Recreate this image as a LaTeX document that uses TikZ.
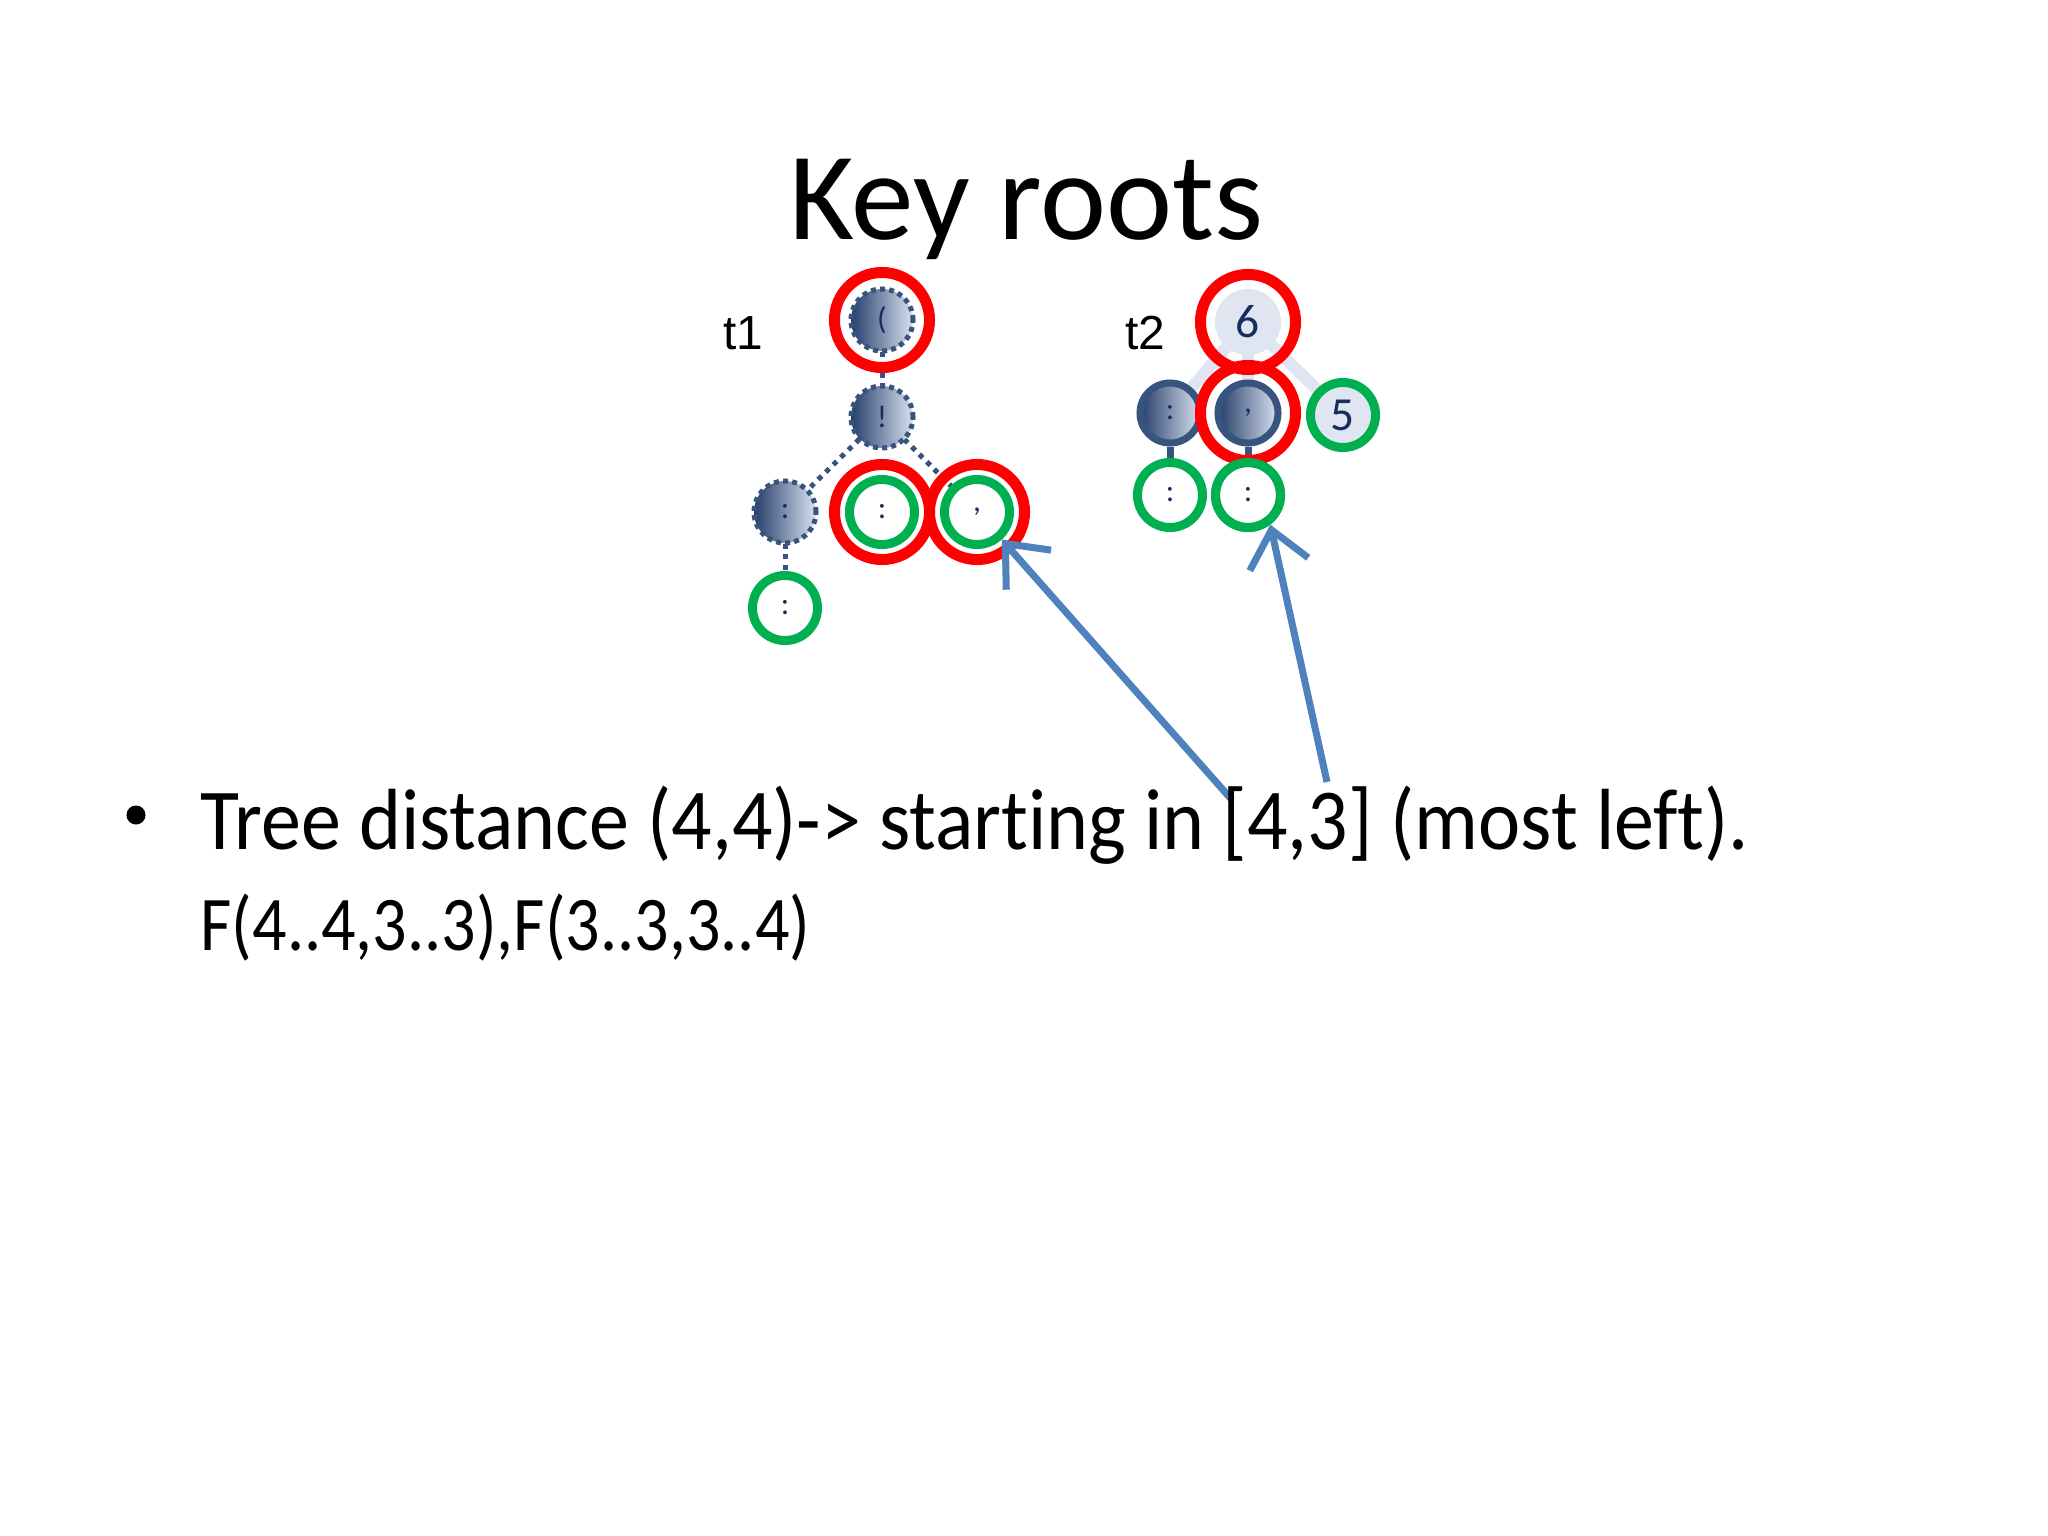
\documentclass[tikz,border=0pt]{standalone}
\usepackage{fontspec}
\setmainfont{Carlito}[Ligatures=NoCommon]
\newfontfamily\labelfont{Liberation Sans}
\newfontfamily\bodyfont{Carlito}[Ligatures=NoCommon, FakeStretch=0.92]
\newfontfamily\formfont{Carlito}[Ligatures=NoCommon, FakeStretch=0.88]
\usetikzlibrary{arrows.meta}
\definecolor{KRRed}{RGB}{255,0,0}
\definecolor{KRGreen}{RGB}{0,176,80}
\definecolor{KRNavy}{RGB}{23,45,95}
\definecolor{KRDark}{RGB}{38,62,105}
\definecolor{KRLight}{RGB}{216,225,240}
\definecolor{KREdge}{RGB}{55,84,126}
\definecolor{KRPale}{RGB}{223,230,241}
\definecolor{KRBlue}{RGB}{79,129,189}

\begin{document}
\begin{tikzpicture}[x=0.01cm, y=-0.01cm,
    dnode/.style={circle, minimum size=0.62cm, inner sep=0pt,
                  left color=KRDark, right color=KRLight, draw=KREdge,
                  line width=0.05cm, dash pattern=on 1.4pt off 1.2pt,
                  font=\fontsize{9pt}{9pt}\selectfont, text=KRNavy},
    snode/.style={circle, minimum size=0.6cm, inner sep=0pt,
                  left color=KRDark, right color=KRLight, draw=KREdge,
                  line width=0.07cm,
                  font=\fontsize{9pt}{9pt}\selectfont, text=KRNavy},
    pnode/.style={circle, minimum size=0.66cm, inner sep=0pt, fill=KRPale,
                  font=\fontsize{13.5pt}{13.5pt}\selectfont, text=KRNavy},
    keyring/.style={circle, draw=KRRed, line width=0.11cm,
                    minimum size=0.95cm, inner sep=0pt},
    leafring/.style={circle, draw=KRGreen, line width=0.09cm, fill=white,
                     minimum size=0.65cm, inner sep=0pt,
                     font=\fontsize{9pt}{9pt}\selectfont, text=KRNavy},
    dotline/.style={draw=KREdge, line width=0.05cm, dash pattern=on 1.4pt off 1.6pt},
    paleline/.style={draw=KRPale, line width=0.12cm},
    darkline/.style={draw=KREdge, line width=0.07cm},
    arr/.style={-{Straight Barb[length=10pt, width=17pt, line width=2pt]}, draw=KRBlue, line width=2pt}
  ]
  \useasboundingbox (0,0) rectangle (2048,1536);

  \node[anchor=base, font=\fontsize{35.6pt}{40pt}\selectfont] (title) at (1026,239) {Key roots};

  \node[font=\labelfont\fontsize{13.6pt}{16pt}\selectfont] (lab1) at (743,333) {t1};
  \node[font=\labelfont\fontsize{13.6pt}{16pt}\selectfont] (lab2) at (1145,333) {t2};

  \coordinate (pa) at (882,320);
  \coordinate (pb) at (882,417);
  \coordinate (pc) at (785,512);
  \coordinate (pd) at (882,512);
  \coordinate (pe) at (977,512);
  \coordinate (pf) at (785,608);
  \draw[dotline] (pa) -- (pb);
  \draw[dotline] (pb) -- (pc);
  \draw[dotline] (pb) -- (pe);
  \draw[dotline] (pc) -- (pf);

  \node[dnode] (a) at (pa) {(};
  \node[dnode] (b) at (pb) {!};
  \node[dnode] (c) at (pc) {:};
  \node[leafring] (d) at (pd) {:};
  \node[leafring] (e) at (pe) {,};
  \node[leafring] (f) at (pf) {:};
  \node[keyring] (ka) at (a.center) {};
  \node[keyring] (kd) at (d.center) {};
  \node[keyring] (ke) at (e.center) {};

  \coordinate (qr) at (1248,322);
  \coordinate (qm1) at (1170,413);
  \coordinate (qm2) at (1248,413);
  \coordinate (qm3) at (1343,415);
  \draw[paleline] (qr) -- (qm1);
  \draw[paleline] (qr) -- (qm2);
  \draw[paleline] (qr) -- (qm3);

  \node[pnode] (r) at (qr) {6};
  \node[snode] (m1) at (qm1) {:};
  \node[snode] (m2) at (qm2) {,};
  \node[leafring, fill=KRPale, font=\fontsize{13.5pt}{13.5pt}\selectfont] (m3) at (qm3) {5};
  \node[leafring] (l1) at (1170,495) {:};
  \node[leafring] (l2) at (1248,495) {:};
  \draw[darkline] (m1) -- (l1);
  \draw[darkline] (m2) -- (l2);
  \node[keyring] (kr) at (r.center) {};
  \node[keyring] (km2) at (m2.center) {};
  \node[leafring, fill=none] at (l2.center) {};

  \coordinate (ta1) at (1232,800);
  \coordinate (ta2) at (1327,782);
  \draw[arr] (ta1) -- (e.-48);
  \draw[arr] (ta2) -- (l2.-53);

  \node[circle, fill=black, minimum size=0.19cm, inner sep=0pt] (bul) at (136,815) {};
  \node[anchor=base west, inner sep=0pt, font=\bodyfont\fontsize{24.7pt}{30pt}\selectfont] (line1) at (200,849)
    {Tree distance (4,4)-> starting in [4,3] (most left).};
  \node[anchor=base west, inner sep=0pt, font=\formfont\fontsize{22pt}{26pt}\selectfont] (line2) at (200,950)
    {F(4..4,3..3),F(3..3,3..4)};
\end{tikzpicture}
\end{document}
